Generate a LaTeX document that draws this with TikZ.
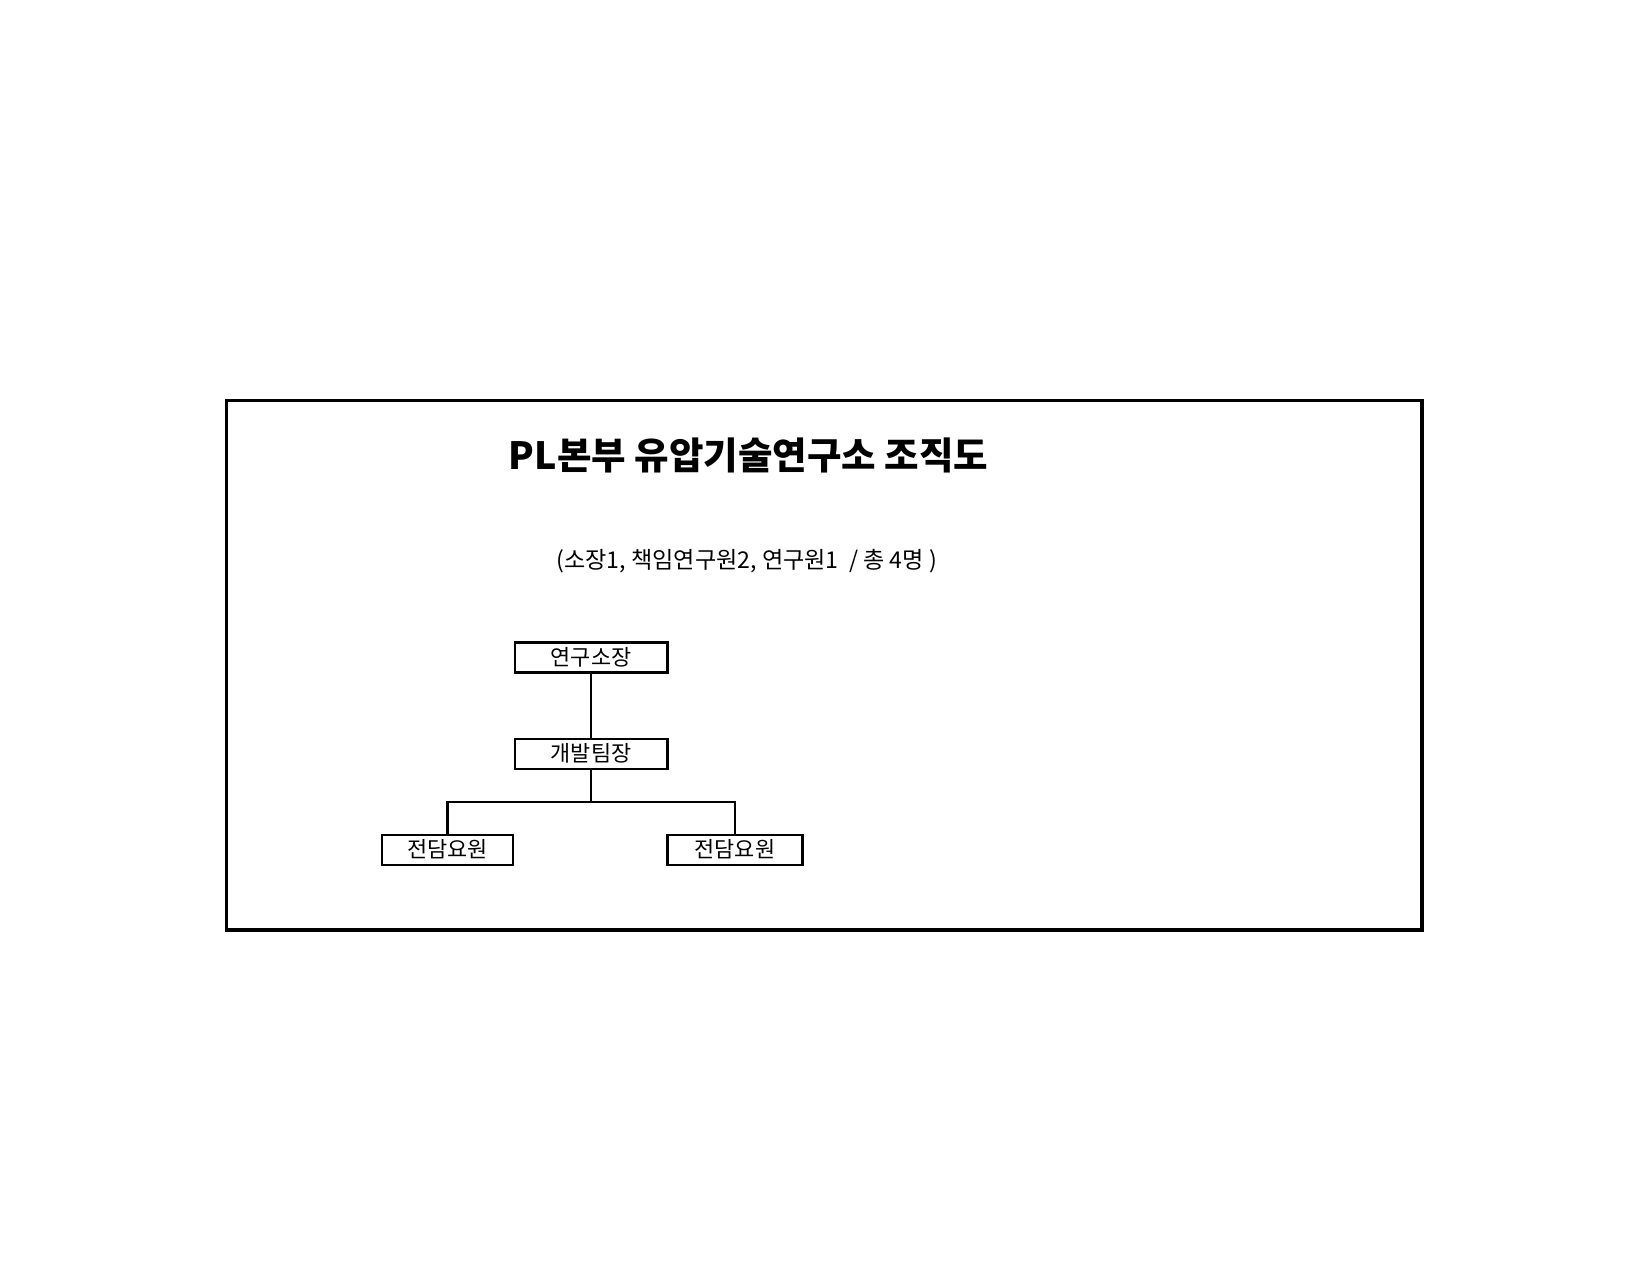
\documentclass[tikz,border=0pt]{standalone}
\usepackage{fontspec}
\setmainfont{Noto Sans CJK KR}
\usetikzlibrary{
  positioning,
}
\tikzset{
  box/.style = {draw=black, line width=1pt, minimum
      width=#1, minimum height=14.4pt,
      inner sep=0pt, font=\fontsize{10.5}{12}\selectfont},
  box/.default = 73.4pt, % width of the upper boxes
  link/.style = {line width=1pt},
}
\begin{document}
\begin{tikzpicture}[x=0.48pt, y=-0.48pt]
  \useasboundingbox (0,0) rectangle (1650,1275);
  \draw[line width=1.9pt] (226.5,400.5) rectangle (1421.7,930.3);

  \node[font=\bfseries\fontsize{18}{21}\selectfont] (title) at (748.5,455)
    {PL본부 유압기술연구소 조직도};
  \node[font=\fontsize{11.1}{13}\selectfont] (count) at (746.7,561)
    {(소장1, 책임연구원2, 연구원1~ / 총 4명 )};

  \node[box] (head) at (591,657.5) {연구소장};
  \node[box, below=30.7pt of head] (lead) {개발팀장};
  \node[box=63pt, below=30.7pt of lead, xshift=-68.9pt] (staffA) {전담요원};
  \node[box=64.8pt, below=30.7pt of lead, xshift=69.1pt] (staffB) {전담요원};

  \draw[link] (head) -- (lead);
  \draw[link] (lead.south) -- ++(0,32) -| (staffA.north);
  \draw[link] (lead.south) -- ++(0,32) -| (staffB.north);
\end{tikzpicture}
\end{document}
